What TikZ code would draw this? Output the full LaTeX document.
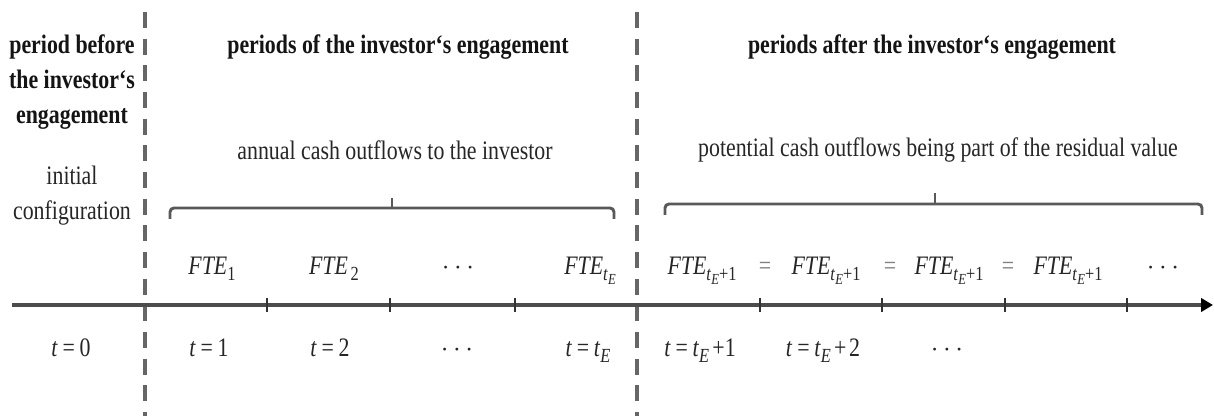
\documentclass[tikz,border=0pt]{standalone}
\usepackage{fontspec}
\setmainfont[FakeStretch=0.82]{Liberation Serif}
\usetikzlibrary{arrows.meta}
\newcommand{\lowsub}[1]{\raisebox{-0.45ex}{\fontsize{15}{15}\selectfont #1}}
\newcommand{\lowsubsub}[1]{\raisebox{-0.4ex}{\fontsize{11.5}{11.5}\selectfont #1}}
\newcommand{\tEsym}{\textit{t}\lowsubsub{\textit{E}}}
\newcommand{\eqs}{\hspace{0.18em}=\hspace{0.18em}}
\begin{document}
\begin{tikzpicture}[x=0.75pt,y=-0.75pt,
  every node/.style={inner sep=0pt, text=black!85, font=\fontsize{20}{26.25}\selectfont},
  head/.style={font=\fontsize{20}{26.25}\selectfont\bfseries, text=black!92},
  divider/.style={draw=black!60, line width=2.4pt, dash pattern=on 12pt off 8pt},
  axisline/.style={draw=black!70, line width=3pt, -{Triangle[length=9pt,width=10pt,color=black]}},
  tickmark/.style={draw=black!80, line width=1.4pt},
  bracket/.style={draw=black!65, line width=2.2pt, rounded corners=3pt},
  stem/.style={draw=black!65, line width=2pt},
  lbl/.style={anchor=base},
  eqsign/.style={anchor=base, text=black!50},
]
\fill[white] (0,0) rectangle (1214,416);
\useasboundingbox (0,0) rectangle (1214,416);

% dividers
\coordinate (d1top) at (145,12);
\coordinate (d1bot) at (145,416);
\coordinate (d2top) at (637,12);
\coordinate (d2bot) at (637,416);
\draw[divider] (d1top) -- (d1bot);
\draw[divider] (d2top) -- (d2bot);

% axis
\coordinate (axstart) at (12,305);
\coordinate (axend) at (1213,305);
\draw[axisline] (axstart) -- (axend);
\foreach \xx in {267,390,515,760,882,1005,1127}{
  \draw[tickmark] (\xx,298) -- (\xx,312);
}

% headers
\node[head, align=center] (hbefore) at (72,82) {period before\\the investor‘s\\engagement};
\node[head] (hduring) at (398,47) {periods of the investor‘s engagement};
\node[head] (hafter) at (932,47) {periods after the investor‘s engagement};

% descriptions
\node[align=center] (init) at (72,196) {initial\\configuration};
\node (annual) at (395,150) {annual cash outflows to the investor};
\node (potential) at (938,150) {potential cash outflows being part of the residual value};

% braces
\draw[bracket] (170,219) -- (170,208) -- (614,208) -- (614,219);
\draw[stem] (392,208) -- (392,198);
\draw[bracket] (665,215) -- (665,204) -- (1202,204) -- (1202,215);
\draw[stem] (935,204) -- (935,193);

% cash flows
\node[lbl] (f1) at (212,275) {\textit{FTE}\lowsub{1}};
\node[lbl] (f2) at (334,275) {\textit{FTE}\hspace{0.1em}\lowsub{2}};
\node[lbl] (fd) at (458,275) {$\cdots$};
\node[lbl] (fE) at (590,275) {\textit{FTE}\lowsub{\tEsym}};
\node[lbl] (fa) at (702,275) {\textit{FTE}\lowsub{\tEsym+1}};
\node[eqsign] (e1) at (765,275) {=};
\node[lbl] (fb) at (826,275) {\textit{FTE}\lowsub{\tEsym+1}};
\node[eqsign] (e2) at (890,275) {=};
\node[lbl] (fc) at (949,275) {\textit{FTE}\lowsub{\tEsym+1}};
\node[eqsign] (e3) at (1008,275) {=};
\node[lbl] (fe) at (1068,275) {\textit{FTE}\lowsub{\tEsym+1}};
\node[lbl] (fd2) at (1163,275) {$\cdots$};

% time labels
\node[lbl] (t0) at (71,357) {\textit{t}\eqs0};
\node[lbl] (t1) at (209,357) {\textit{t}\eqs1};
\node[lbl] (t2) at (330,357) {\textit{t}\eqs2};
\node[lbl] (td) at (457,357) {$\cdots$};
\node[lbl] (tE) at (588,357) {\textit{t}\eqs\textit{t}\lowsub{\textit{E}}};
\node[lbl] (tE1) at (700,357) {\textit{t}\eqs\textit{t}\lowsub{\textit{E}}\hspace{0.12em}+1};
\node[lbl] (tE2) at (823,357) {\textit{t}\eqs\textit{t}\lowsub{\textit{E}}\hspace{0.12em}+\hspace{0.1em}2};
\node[lbl] (td2) at (947,357) {$\cdots$};
\end{tikzpicture}
\end{document}
